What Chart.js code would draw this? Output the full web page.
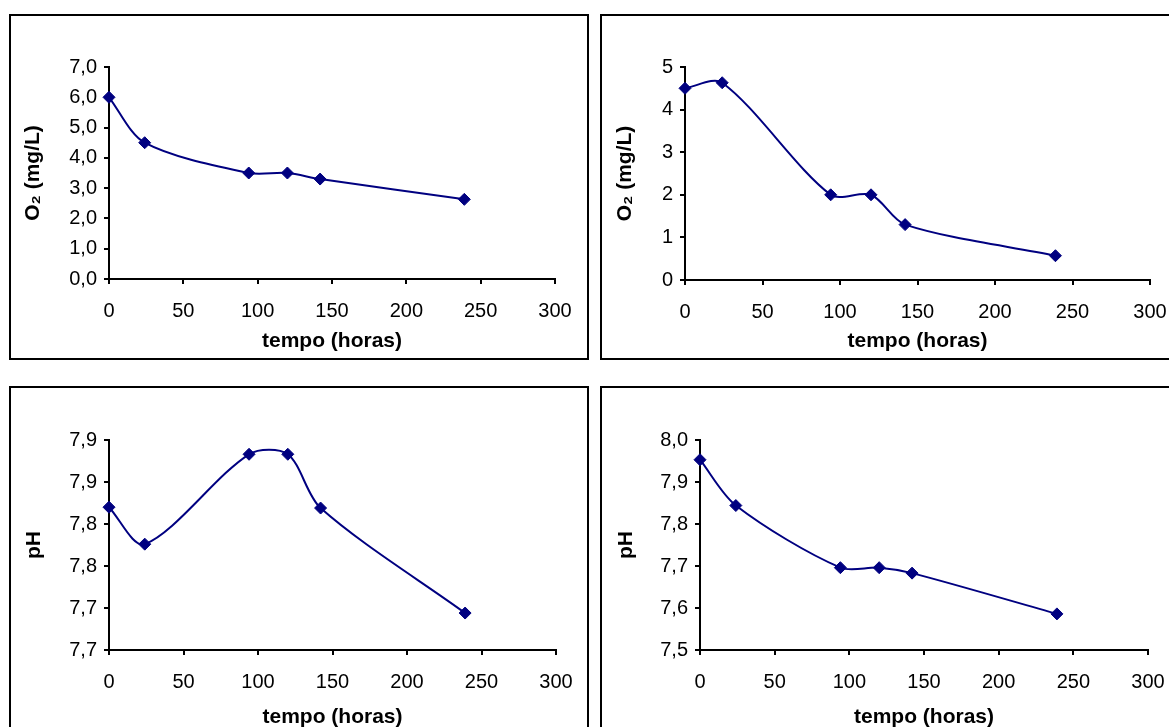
<!DOCTYPE html>
<html>
<head>
<meta charset="utf-8">
<script src="https://cdn.jsdelivr.net/npm/chart.js@4.4.1/dist/chart.umd.min.js"></script>
<style>
    html, body { margin: 0; padding: 0; background: #fff; overflow: hidden; width: 1169px; height: 727px; }
    .panel { position: absolute; box-sizing: border-box; border: 2px solid #000; background: #fff; }
    .panel canvas { position: absolute; left: 0; top: 0; }
</style>
</head>
<body>
<div class="panel" id="p1" style="left:9px; top:14px; width:580px; height:346px;"><canvas id="c1" width="576" height="342"></canvas></div>
<div class="panel" id="p2" style="left:600px; top:14px; width:600px; height:346px;"><canvas id="c2" width="567" height="342"></canvas></div>
<div class="panel" id="p3" style="left:9px; top:386px; width:580px; height:400px;"><canvas id="c3" width="576" height="342"></canvas></div>
<div class="panel" id="p4" style="left:600px; top:386px; width:600px; height:400px;"><canvas id="c4" width="567" height="342"></canvas></div>
<script>
var tempo = [0, 24, 94, 120, 142, 239];

var o2Left = [6.0, 4.5, 3.5, 3.5, 3.3, 2.63];
var o2Right = [4.5, 4.63, 2.0, 2.0, 1.3, 0.57];
var phLeft = [7.82, 7.776, 7.883, 7.883, 7.819, 7.694];
var phRight = [7.953, 7.844, 7.696, 7.696, 7.683, 7.586];

var xTicks = [0, 50, 100, 150, 200, 250, 300];

var o2LeftTicks = [0, 1, 2, 3, 4, 5, 6, 7];
var o2LeftLabels = ['0,0', '1,0', '2,0', '3,0', '4,0', '5,0', '6,0', '7,0'];
var o2RightTicks = [0, 1, 2, 3, 4, 5];
var o2RightLabels = ['0', '1', '2', '3', '4', '5'];
var phLeftTicks = [7.65, 7.70, 7.75, 7.80, 7.85, 7.90];
var phLeftLabels = ['7,7', '7,7', '7,8', '7,8', '7,9', '7,9'];
var phRightTicks = [7.5, 7.6, 7.7, 7.8, 7.9, 8.0];
var phRightLabels = ['7,5', '7,6', '7,7', '7,8', '7,9', '8,0'];

var FONT = '"Liberation Sans", Arial, sans-serif';
var NAVY = '#000080';

function addLineChart(selector, yValues, yTicks, yLabels, yTitle, area) {
    var ctx = document.querySelector(selector);
    var points = tempo.map(function (t, i) { return { x: t, y: yValues[i] }; });
    return new Chart(ctx, {
        type: 'line',
        data: {
            datasets: [{
                data: points,
                borderColor: NAVY,
                backgroundColor: NAVY,
                borderWidth: 2,
                tension: 0.3,
                clip: false,
                pointStyle: 'rectRot',
                pointRadius: 6,
                pointBorderWidth: 1,
                pointBackgroundColor: NAVY,
                pointBorderColor: NAVY
            }]
        },
        options: {
            responsive: false,
            animation: false,
            layout: {
                padding: { left: 0, top: area.top, right: area.right, bottom: 0 }
            },
            plugins: {
                legend: { display: false },
                tooltip: { enabled: false }
            },
            scales: {
                x: {
                    type: 'linear',
                    min: 0,
                    max: 300,
                    afterBuildTicks: function (scale) {
                        scale.ticks = xTicks.map(function (v) { return { value: v }; });
                    },
                    afterFit: function (scale) {
                        scale.height = area.xh;
                        scale.paddingLeft = 0;
                        scale.paddingRight = 0;
                    },
                    grid: { drawOnChartArea: false, drawTicks: true, tickLength: 5, color: '#000', lineWidth: 2 },
                    border: { display: true, color: '#000', width: 2 },
                    ticks: { color: '#000', padding: 15, maxRotation: 0, font: { family: FONT, size: 20 } },
                    title: {
                        display: true,
                        text: 'tempo (horas)',
                        color: '#000',
                        padding: { top: 0, bottom: area.bp },
                        font: { family: FONT, size: 21, weight: 'bold' }
                    }
                },
                y: {
                    type: 'linear',
                    min: yTicks[0],
                    max: yTicks[yTicks.length - 1],
                    afterBuildTicks: function (scale) {
                        scale.ticks = yTicks.map(function (v) { return { value: v }; });
                    },
                    afterFit: function (scale) { scale.width = area.yw; },
                    grid: { drawOnChartArea: false, drawTicks: true, tickLength: 5, color: '#000', lineWidth: 2 },
                    border: { display: true, color: '#000', width: 2 },
                    ticks: {
                        color: '#000',
                        padding: 7,
                        font: { family: FONT, size: 20 },
                        callback: function (value, index) { return yLabels[index]; }
                    },
                    title: {
                        display: true,
                        text: yTitle,
                        color: '#000',
                        padding: { top: area.tp, bottom: 0 },
                        font: { family: FONT, size: 21, weight: 'bold' }
                    }
                }
            }
        }
    });
}

addLineChart('#c1', o2Left, o2LeftTicks, o2LeftLabels, 'O₂ (mg/L)', { top: 51, right: 32, xh: 79, yw: 98, tp: 10, bp: 4 });
addLineChart('#c2', o2Right, o2RightTicks, o2RightLabels, 'O₂ (mg/L)', { top: 51, right: 19, xh: 78, yw: 83, tp: 11, bp: 4 });
addLineChart('#c3', phLeft, phLeftTicks, phLeftLabels, 'pH', { top: 52, right: 31, xh: 80, yw: 98, tp: 11, bp: 0 });
addLineChart('#c4', phRight, phRightTicks, phRightLabels, 'pH', { top: 52, right: 21, xh: 80, yw: 98, tp: 12, bp: 0 });
</script>
</body>
</html>
